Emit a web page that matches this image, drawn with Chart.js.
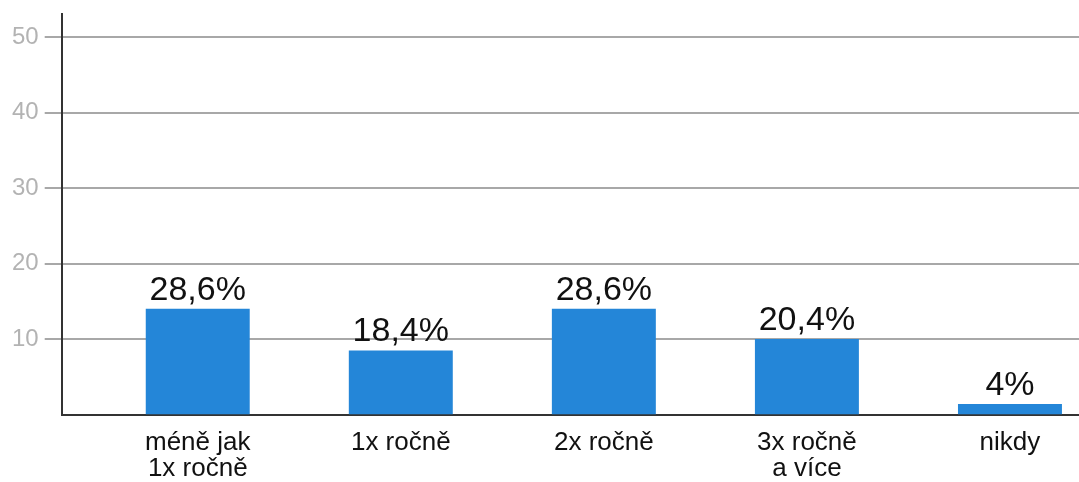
<!DOCTYPE html>
<html>
<head>
<meta charset="utf-8">
<script src="https://cdn.jsdelivr.net/npm/chart.js@4.4.0/dist/chart.umd.min.js"></script>
<style>
html,body{margin:0;padding:0;background:#fff;overflow:hidden;}
#wrap{width:1079px;height:482px;position:relative;}
</style>
</head>
<body>
<div id="wrap"><canvas id="c" width="1079" height="482"></canvas></div>
<script>
const categories = [["méně jak", "1x ročně"], ["1x ročně"], ["2x ročně"], ["3x ročně", "a více"], ["nikdy"]];
const values = [14, 8.5, 14, 10, 1.4];
const percentLabels = ["28,6%", "18,4%", "28,6%", "20,4%", "4%"];
const yTicks = [10, 20, 30, 40, 50];

const labelPlugin = {
  id: 'barLabels',
  afterDatasetsDraw(chart) {
    const ctx = chart.ctx;
    const meta = chart.getDatasetMeta(0);
    ctx.save();
    ctx.font = '34px "Liberation Sans", Arial, sans-serif';
    ctx.fillStyle = '#111';
    ctx.textAlign = 'center';
    ctx.textBaseline = 'alphabetic';
    meta.data.forEach((el, i) => {
      ctx.fillText(percentLabels[i], el.x, el.y - 9);
    });
    ctx.restore();
  }
};

new Chart(document.getElementById('c'), {
  type: 'bar',
  data: {
    datasets: [{
      data: values.map((v, i) => ({x: i, y: v})),
      backgroundColor: '#2486d8',
      borderWidth: 0,
      barPercentage: 0.512,
      categoryPercentage: 1
    }]
  },
  options: {
    responsive: false,
    animation: false,
    layout: {padding: {left: 6, right: 0, top: 0, bottom: -15}},
    plugins: {legend: {display: false}, tooltip: {enabled: false}},
    scales: {
      x: {
        type: 'linear',
        offset: false,
        bounds: 'data',
        min: -0.67,
        max: 4.34,
        afterBuildTicks(scale) {
          scale.ticks = categories.map((c, i) => ({value: i}));
        },
        ticks: {
          stepSize: 1,
          padding: 16,
          color: '#111',
          font: {family: '"Liberation Sans", Arial, sans-serif', size: 26, lineHeight: 0.97},
          callback: (v) => categories[v] || '',
          maxRotation: 0,
          autoSkip: false
        },
        grid: {display: false, drawTicks: false},
        border: {display: true, color: '#333', width: 2}
      },
      y: {
        min: 0,
        max: 53,
        afterBuildTicks(scale) {
          scale.ticks = yTicks.map(v => ({value: v}));
        },
        ticks: {
          padding: 6,
          color: '#b3b3b3',
          font: {family: '"Liberation Sans", Arial, sans-serif', size: 24, lineHeight: 0.7}
        },
        grid: {color: '#a8a8a8', lineWidth: 2, tickLength: 17, drawTicks: true},
        border: {display: true, color: '#333', width: 2}
      }
    }
  },
  plugins: [labelPlugin]
});
</script>
</body>
</html>
